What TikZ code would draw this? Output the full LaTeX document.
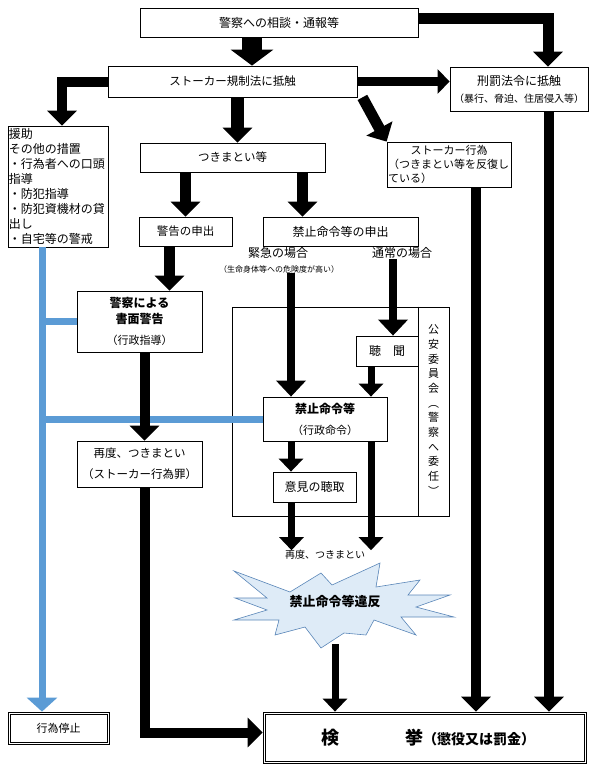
\documentclass[tikz,border=0pt]{standalone}
\usepackage{fontspec}
\setmainfont{Noto Sans CJK JP}
\usetikzlibrary{arrows.meta}
\definecolor{bluel}{HTML}{5B9BD5}
\definecolor{burstf}{HTML}{DEEBF7}
\definecolor{burstl}{HTML}{5A86B8}
\begin{document}
\begin{tikzpicture}[x=1pt, y=-1pt,
  bx/.style={draw, line width=0.8pt, inner sep=0pt, align=center, font=\fontsize{11.5}{14}\selectfont},
  inr/.style={line width=0.6pt},
  lb/.style={inner sep=0pt, font=\fontsize{12}{14}\selectfont},
  big/.style={line width=20pt, -{Triangle[width=42pt,length=16pt]}},
  ar/.style={line width=11pt, -{Triangle[width=29pt,length=15pt]}},
  ars/.style={line width=7pt, -{Triangle[width=24pt,length=13pt]}},
  bl/.style={draw=bluel, line width=7pt},
  burst/.style={draw=burstl, fill=burstf, line width=0.6pt}
]
\useasboundingbox (0,0) rectangle (595,769);

% 公安委員会の枠
\node[draw, line width=0.8pt, minimum width=217, minimum height=209, inner sep=0pt] (frame) at (340.5,411.5) {};
\draw[line width=0.8pt] ([xshift=-31pt]frame.north east) -- ([xshift=-31pt]frame.south east);
\node[lb, align=center, font=\fontsize{11}{14.7}\selectfont] (psc) at (433.5,410) {公\\安\\委\\員\\会\\︵\\警\\察\\へ\\委\\任\\︶};

\node[bx, minimum width=278, minimum height=29, font=\fontsize{12}{14}\selectfont] (consult) at (279,22.5) {警察への相談・通報等};
\node[bx, minimum width=249, minimum height=31] (stlaw) at (232.5,81.5) {ストーカー規制法に抵触};
\node[bx, minimum width=138, minimum height=44, font=\fontsize{12}{17}\selectfont] (penal) at (519,89) {刑罰法令に抵触\\{\fontsize{10}{13}\selectfont （暴行、脅迫、住居侵入等）}};
\node[bx, minimum width=100, minimum height=121, text width=98, align=left, font=\fontsize{12}{15}\selectfont] (aid) at (58,186.5) {援助\\その他の措置\\・行為者への口頭\\指導\\・防犯指導\\・防犯資機材の貸\\出し\\・自宅等の警戒};
\node[bx, minimum width=185, minimum height=29] (tsuki) at (232.5,157.5) {つきまとい等};
\node[bx, minimum width=124, minimum height=45, text width=122, align=left, font=\fontsize{11}{14}\selectfont] (stact) at (449,164.5) {\makebox[122pt]{ストーカー行為}\\（つきまとい等を反復し\\ている）};
\node[bx, minimum width=93, minimum height=29] (warnreq) at (185.5,231.5) {警告の申出};
\node[bx, minimum width=155, minimum height=29, font=\fontsize{12}{14}\selectfont] (banreq) at (340.5,231.5) {禁止命令等の申出};
\node[lb] (emerg) at (278,253) {緊急の場合};
\node[lb, font=\fontsize{8}{10}\selectfont] (emsub) at (279,269) {（生命身体等への危険度が高い）};
\node[lb] (normal) at (402,253) {通常の場合};

\node[bx, minimum width=125, minimum height=61, font=\fontsize{12}{16}\selectfont] (warning) at (139.5,321.5) {{\bfseries 警察による}\\{\bfseries 書面警告}\\[5pt]{\fontsize{11}{14}\selectfont （行政指導）}};
\node[bx, minimum width=125, minimum height=46, font=\fontsize{11.5}{21}\selectfont] (again) at (139.5,464) {再度、つきまとい\\（ストーカー行為罪）};
\node[bx, minimum width=62, minimum height=30, font=\fontsize{12}{14}\selectfont] (hearing) at (387,351) {聴\hspace{1em}聞};
\node[bx, minimum width=124, minimum height=44, font=\fontsize{12}{21}\selectfont] (ban) at (325,419) {{\bfseries 禁止命令等}\\{\fontsize{11}{14}\selectfont （行政命令）}};
\node[bx, minimum width=83, minimum height=30, font=\fontsize{12}{14}\selectfont] (opinion) at (314.5,487) {意見の聴取};
\node[lb, font=\fontsize{10}{12}\selectfont] (again2) at (325,555) {再度、つきまとい};

% 違反の爆発形
\draw[burst] (234,571) -- (290,592) -- (321,573) -- (332,585) -- (380,563) -- (376,587)
  -- (420,580) -- (408,595) -- (450,595) -- (416,607) -- (454,617) -- (401,617)
  -- (416,635) -- (374,620) -- (366,635) -- (344,633) -- (321,648) -- (305,627)
  -- (275,635) -- (279,620) -- (234,620) -- (267,610) -- (235,598) -- (267,598) -- cycle;
\node[lb, font=\fontsize{13}{15}\selectfont\bfseries] (viol) at (335,602) {禁止命令等違反};

% 二重枠
\node[bx, minimum width=101, minimum height=32, font=\fontsize{11}{13}\selectfont] (stop) at (58.5,728) {行為停止};
\draw[inr] ([shift={(2.2pt,-2.2pt)}]stop.north west) rectangle ([shift={(-2.2pt,2.2pt)}]stop.south east);
\node[bx, minimum width=323, minimum height=51, text width=319, align=left, font=\fontsize{18}{20}\selectfont\bfseries] (arrest) at (424.5,737.5) {\hspace*{56pt}検\hspace{66pt}挙{\fontsize{14}{16}\selectfont （懲役又は罰金）}};
\draw[inr] ([shift={(2.2pt,-2.2pt)}]arrest.north west) rectangle ([shift={(-2.2pt,2.2pt)}]arrest.south east);

% 青い線
\coordinate (bj) at ([xshift=-16pt]aid.south);
\draw[bl, -{Triangle[width=30pt,length=14pt]}] (bj) -- (bj |- stop.north);
\draw[bl] (bj |- warning.west) -- (warning.west);
\draw[bl] (bj |- ban.west) -- (ban.west);

% 黒い矢印
\draw[big] ([xshift=-27pt]consult.south) -- ([xshift=-27pt]consult.south |- stlaw.north);
\draw[ar] ([yshift=4pt]consult.east) -| ([xshift=29pt]penal.north);
\draw[ar, line width=9pt, -{Triangle[width=24pt,length=12pt]}] (stlaw.east) -- (stlaw.east -| penal.west);
\draw[ar, line width=10pt] (stlaw.west) -| ([xshift=4pt]aid.north);
\draw[ar, line width=13pt] ([xshift=5pt]stlaw.south) -- ([xshift=5pt]stlaw.south |- tsuki.north);
\draw[ar] ([xshift=5pt]stlaw.south east) -- (stact.north west);
\draw[ar] (tsuki.south -| warnreq) -- (warnreq.north);
\draw[ar] ([xshift=-38pt]banreq.north |- tsuki.south) -- ([xshift=-38pt]banreq.north);
\draw[ar] ([xshift=-16pt]warnreq.south) -- ([xshift=-16pt]warnreq.south |- warning.north);
\draw[ar, line width=10pt] ([xshift=5pt]warning.south) -- ([xshift=5pt]again.north);
\draw[ar, line width=10pt] ([xshift=5pt]again.south) |- ([yshift=5pt]arrest.west);
\draw[ars, line width=8pt, -{Triangle[width=29pt,length=16pt]}] ([xshift=-34pt]ban.north |- emsub.south) -- ([xshift=-34pt]ban.north);
\draw[ars, line width=8pt, -{Triangle[width=29pt,length=16pt]}] ([xshift=6pt]hearing.north |- normal.south) -- ([xshift=6pt]hearing.north);
\draw[ars] ([xshift=-16pt]hearing.south) -- ([xshift=-16pt]hearing.south |- ban.north);
\draw[ars] ([xshift=-34pt]ban.south) -- ([xshift=-34pt]ban.south |- opinion.north);
\draw[ars] ([xshift=46pt]ban.south) -- ([xshift=46pt]ban.south |- again2.north);
\draw[ars] ([xshift=-23pt]opinion.south) -- ([xshift=-23pt]opinion.south |- again2.north);
\coordinate (bb) at (335,644);
\draw[ars] (bb) -- (bb |- arrest.north);
\draw[ar, line width=10pt] ([xshift=27pt]stact.south) -- ([xshift=27pt]stact.south |- arrest.north);
\draw[ar, line width=10pt] ([xshift=30pt]penal.south) -- ([xshift=30pt]penal.south |- arrest.north);
\end{tikzpicture}
\end{document}
